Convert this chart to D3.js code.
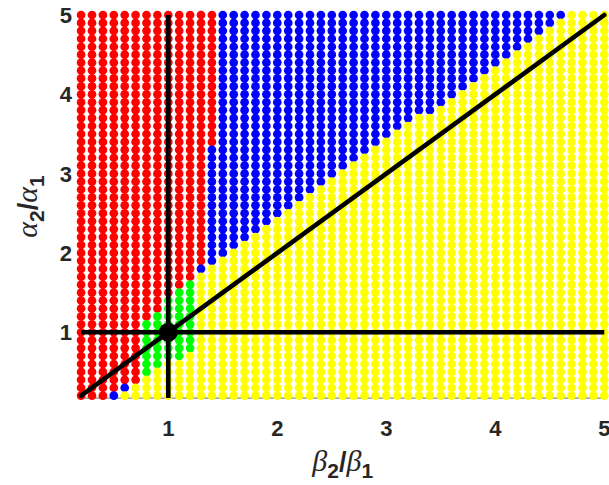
<!DOCTYPE html>
<html>
<head>
<meta charset="utf-8">
<script src="https://cdn.jsdelivr.net/npm/d3@7"></script>
<style>
  html, body { margin: 0; padding: 0; background: #fff; }
  svg { display: block; }
</style>
</head>
<body>
<svg id="chart" width="609" height="485"></svg>
<script>
// Parameter grid: beta2/beta1 along x, alpha2/alpha1 along y
const xValues = [0.2,0.3,0.4,0.5,0.6,0.7,0.8,0.9,1.0,1.1,1.2,1.3,1.4,1.5,1.6,1.7,1.8,1.9,2.0,
  2.1,2.2,2.3,2.4,2.5,2.6,2.7,2.8,2.9,3.0,3.1,3.2,3.3,3.4,3.5,3.6,3.7,3.8,3.9,4.0,
  4.1,4.2,4.3,4.4,4.5,4.6,4.7,4.8,4.9,5.0];
const yValues = [0.2,0.3,0.4,0.5,0.6,0.7,0.8,0.9,1.0,1.1,1.2,1.3,1.4,1.5,1.6,1.7,1.8,1.9,2.0,
  2.1,2.2,2.3,2.4,2.5,2.6,2.7,2.8,2.9,3.0,3.1,3.2,3.3,3.4,3.5,3.6,3.7,3.8,3.9,4.0,
  4.1,4.2,4.3,4.4,4.5,4.6,4.7,4.8,4.9,5.0];

// Outcome runs for the columns 0.2 .. 1.4: [outcome, highest alpha ratio of the run], bottom to top
const leftColumnRuns = [
  [["R",5.0]],                          // 0.2
  [["R",5.0]],                          // 0.3
  [["R",5.0]],                          // 0.4
  [["B",0.2],["R",5.0]],                // 0.5
  [["Y",0.2],["B",0.3],["R",5.0]],      // 0.6
  [["Y",0.3],["R",5.0]],                // 0.7
  [["Y",0.4],["G",1.1],["R",5.0]],      // 0.8
  [["Y",0.5],["G",1.2],["R",5.0]],      // 0.9
  [["Y",0.6],["G",1.4],["R",5.0]],      // 1.0
  [["Y",0.6],["G",1.5],["R",5.0]],      // 1.1
  [["Y",0.7],["G",1.6],["R",5.0]],      // 1.2
  [["Y",1.7],["B",1.8],["R",5.0]],      // 1.3
  [["Y",1.8],["B",3.3],["R",5.0]]       // 1.4
];
// Columns 1.5 .. 5.0: highest yellow point, blue above it
const yellowCeiling = [1.9,2.0,2.1,2.2,2.3,2.4,2.5,2.6,2.7,2.8,2.9,3.0,3.1,3.2,3.3,3.4,3.5,3.6,
  3.7,3.7,3.8,3.9,4.0,4.1,4.2,4.3,4.4,4.5,4.6,4.7,4.8,4.9,5.0,5.0,5.0,5.0];

const outcomeColor = { R: "#ff0000", B: "#0000ff", Y: "#ffff00", G: "#00ff00" };

const xTicks = [1, 2, 3, 4, 5];
const yTicks = [1, 2, 3, 4, 5];

// Reference lines and the marked equal-ratio point
const refVertical = 1;
const refHorizontal = 1;
const diagonal = [[0.2, 0.2], [5, 5]];
const equalPoint = [1, 1];

const tenth = v => Math.round(v * 10);

function outcomeAt(xi, y) {
  const yk = tenth(y);
  if (xi < leftColumnRuns.length) {
    for (const [code, top] of leftColumnRuns[xi]) {
      if (yk <= tenth(top)) return code;
    }
    return "R";
  }
  const ceil = yellowCeiling[xi - leftColumnRuns.length];
  return yk <= tenth(ceil) ? "Y" : "B";
}

const cells = [];
// upper rows first, so lower rows sit on top
for (let j = yValues.length - 1; j >= 0; j--) {
  for (let i = 0; i < xValues.length; i++) {
    cells.push({ x: xValues[i], y: yValues[j], c: outcomeAt(i, yValues[j]) });
  }
}

const svg = d3.select("#chart");
const x = d3.scaleLinear().domain([0.2, 5]).range([81.1, 604.3]);
const y = d3.scaleLinear().domain([0.2, 5]).range([395.7, 15]);
const yBottom = 0.17;

// bottom axis line beneath the markers
svg.append("line")
  .attr("x1", x(0.2)).attr("x2", x(5))
  .attr("y1", y(yBottom)).attr("y2", y(yBottom))
  .attr("stroke", "#6e6e6e").attr("stroke-width", 1);

svg.append("g").selectAll("circle")
  .data(cells)
  .join("circle")
  .attr("cx", d => x(d.x))
  .attr("cy", d => y(d.y))
  .attr("r", 4.35)
  .attr("fill", d => outcomeColor[d.c]);

const lineW = 4.6;
svg.append("line")
  .attr("x1", x(refVertical)).attr("x2", x(refVertical))
  .attr("y1", y(yBottom)).attr("y2", y(5))
  .attr("stroke", "#000").attr("stroke-width", lineW);
svg.append("line")
  .attr("x1", x(0.2)).attr("x2", x(5))
  .attr("y1", y(refHorizontal)).attr("y2", y(refHorizontal))
  .attr("stroke", "#000").attr("stroke-width", lineW);
svg.append("line")
  .attr("x1", x(diagonal[0][0])).attr("y1", y(diagonal[0][1]))
  .attr("x2", x(diagonal[1][0])).attr("y2", y(diagonal[1][1]))
  .attr("stroke", "#000").attr("stroke-width", lineW)
  .attr("stroke-linecap", "round");
svg.append("circle")
  .attr("cx", x(equalPoint[0])).attr("cy", y(equalPoint[1]))
  .attr("r", 9.5).attr("fill", "#000");

// tick labels
const tickFont = "'Liberation Sans', Arial, Helvetica, sans-serif";
svg.append("g").selectAll("text")
  .data(xTicks).join("text")
  .attr("x", d => x(d)).attr("y", 436)
  .attr("text-anchor", "middle")
  .attr("font-family", tickFont).attr("font-weight", "bold")
  .attr("font-size", 22).attr("fill", "#262626")
  .text(d => d);
svg.append("g").selectAll("text")
  .data(yTicks).join("text")
  .attr("x", 72).attr("y", d => y(d) + 8)
  .attr("text-anchor", "end")
  .attr("font-family", tickFont).attr("font-weight", "bold")
  .attr("font-size", 22).attr("fill", "#262626")
  .text(d => d);

// axis titles: ratio of Greek parameters with bold subscripts
function ratioLabel(sel, greek) {
  const serif = "'Liberation Serif', 'Times New Roman', serif";
  sel.append("tspan").attr("font-family", serif).attr("font-style", "italic")
    .attr("font-size", 30).text(greek);
  sel.append("tspan").attr("font-family", tickFont).attr("font-weight", "bold")
    .attr("font-size", 21).attr("dy", 7).text("2");
  sel.append("tspan").attr("font-family", tickFont).attr("font-weight", "bold")
    .attr("font-size", 27).attr("dy", -7).text("/");
  sel.append("tspan").attr("font-family", serif).attr("font-style", "italic")
    .attr("font-size", 30).text(greek);
  sel.append("tspan").attr("font-family", tickFont).attr("font-weight", "bold")
    .attr("font-size", 21).attr("dy", 7).text("1");
}
const xTitle = svg.append("text")
  .attr("x", (x(0.2) + x(5)) / 2).attr("y", 471)
  .attr("text-anchor", "middle").attr("fill", "#262626");
ratioLabel(xTitle, "β");
const yTitle = svg.append("text")
  .attr("transform", `translate(37, ${(y(yBottom) + y(5)) / 2}) rotate(-90)`)
  .attr("text-anchor", "middle").attr("fill", "#262626");
ratioLabel(yTitle, "α");
</script>
</body>
</html>
